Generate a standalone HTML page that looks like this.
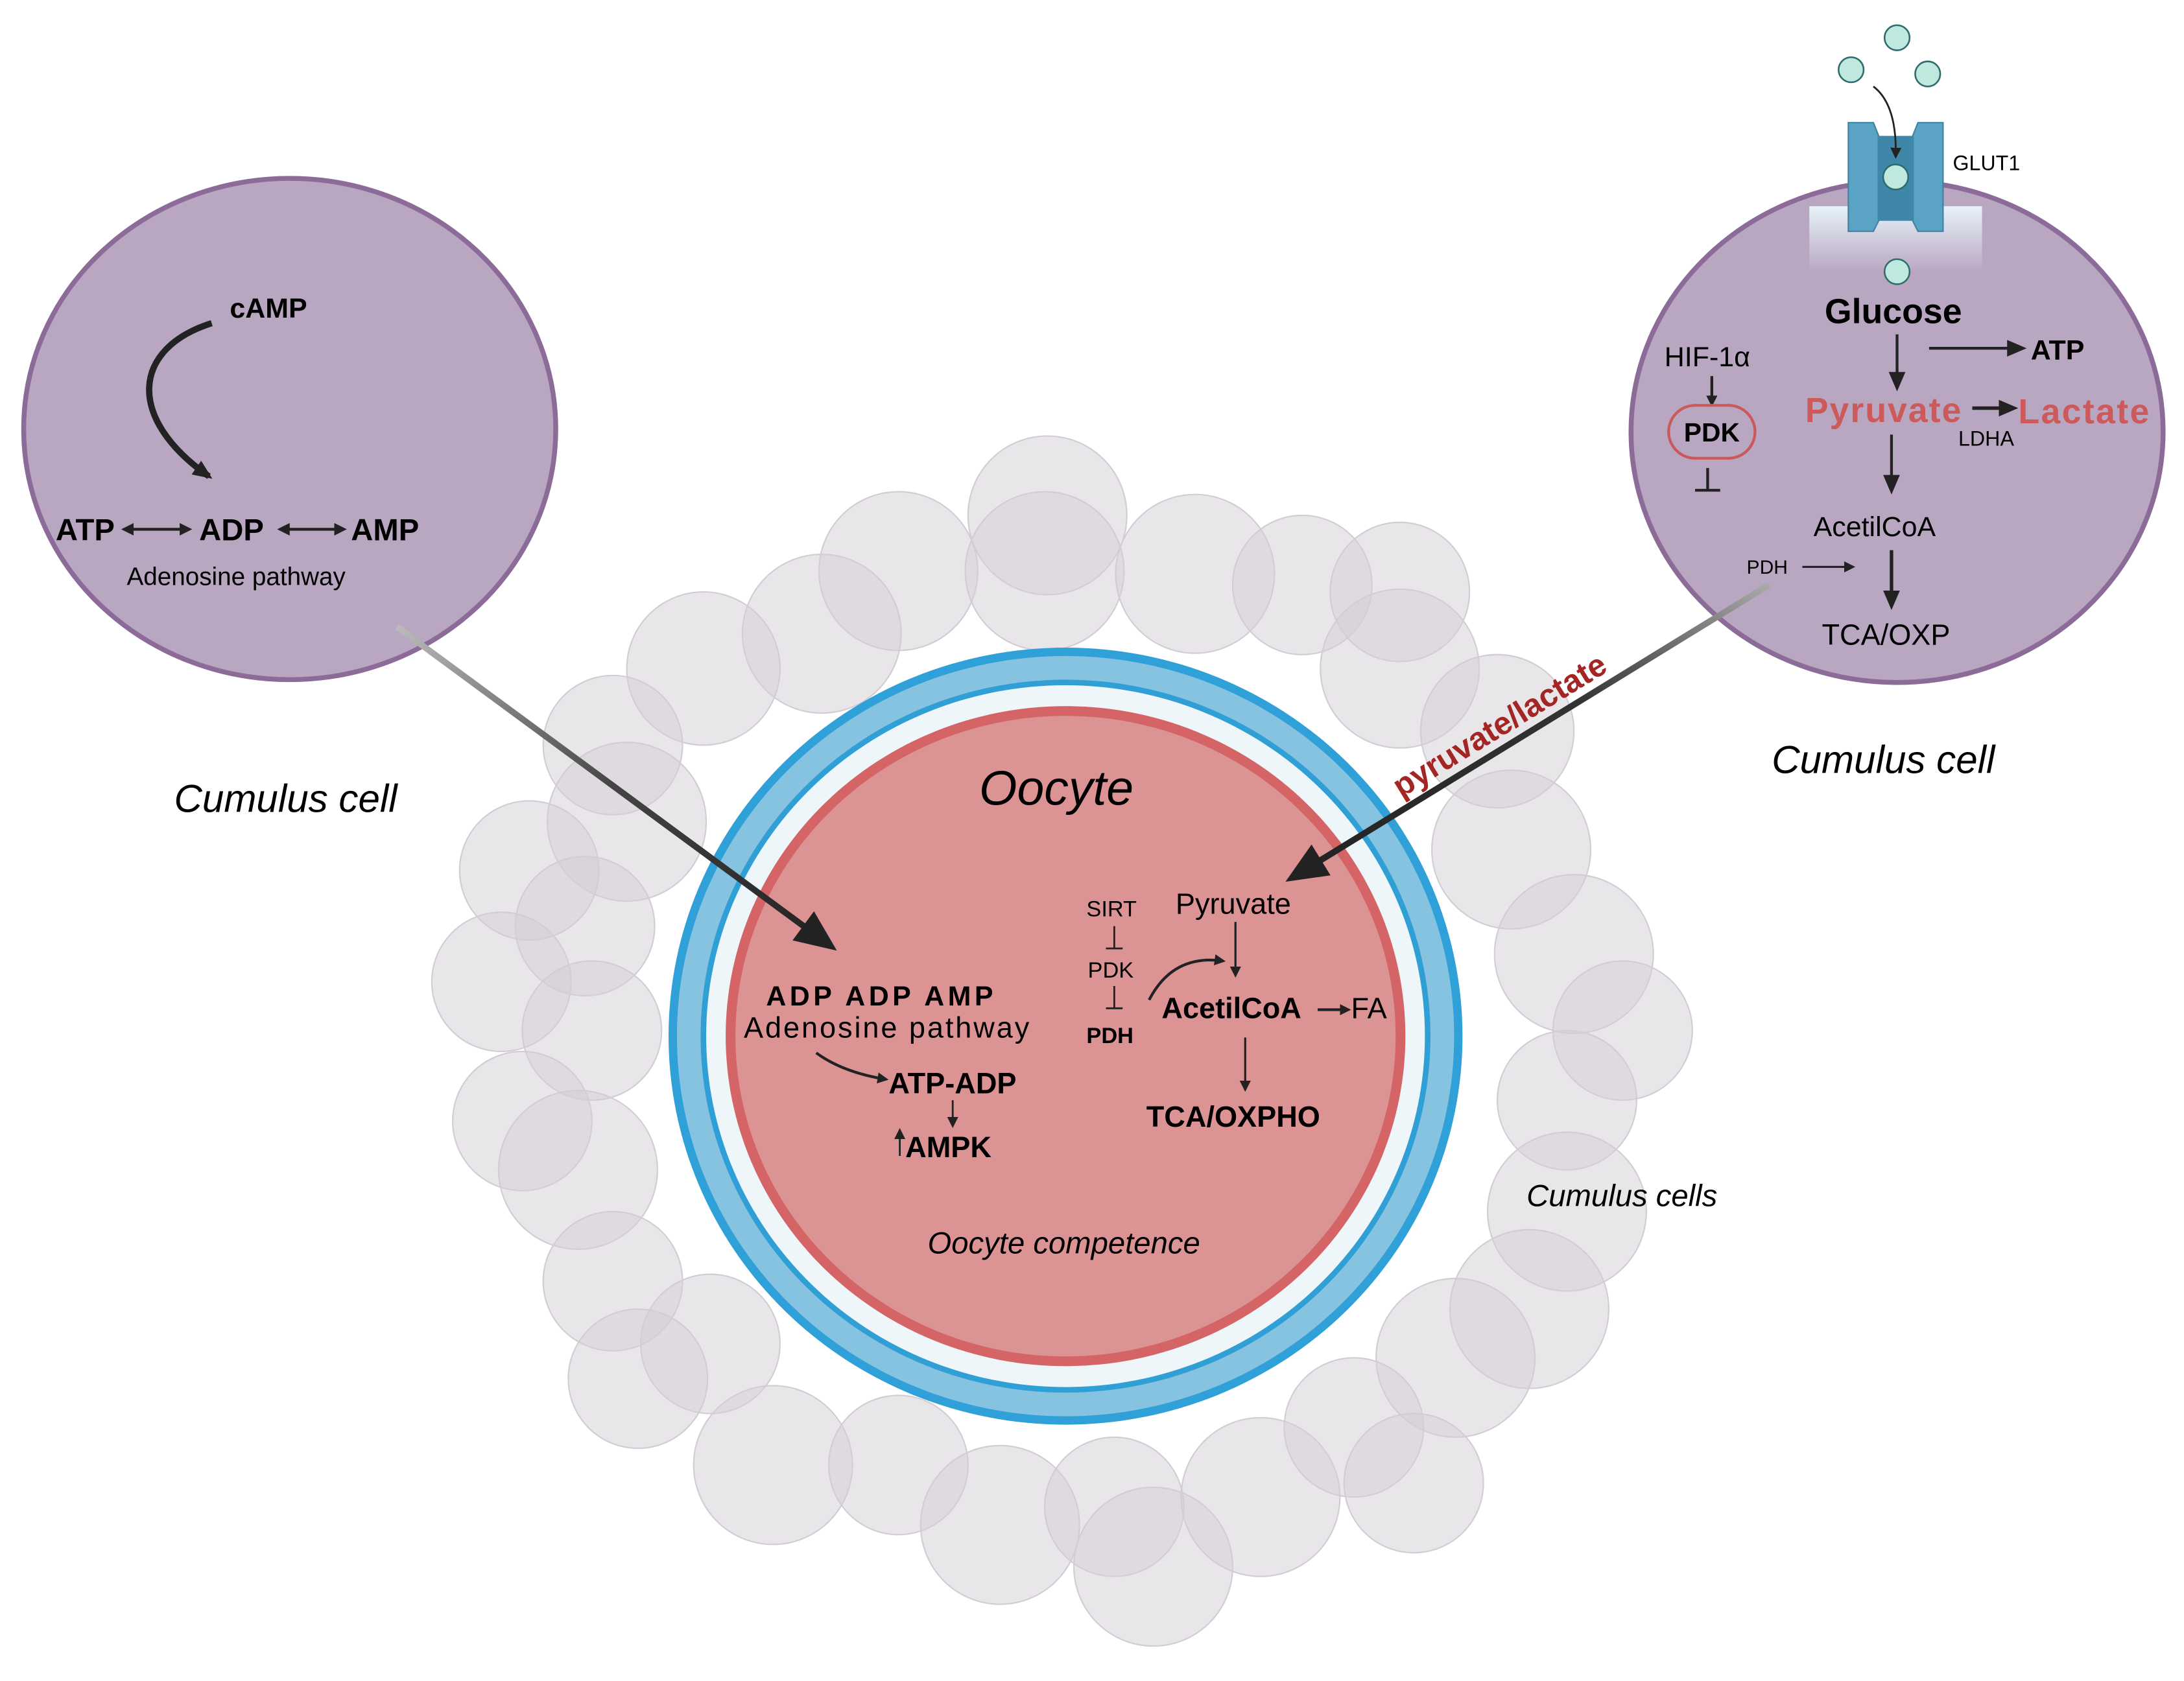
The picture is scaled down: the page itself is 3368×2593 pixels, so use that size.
<!DOCTYPE html>
<html><head><meta charset="utf-8"><style>html,body{margin:0;padding:0;background:#fff}svg{display:block}</style></head>
<body>
<svg width="3368" height="2593" viewBox="0 0 1568 1207" xmlns="http://www.w3.org/2000/svg" font-family="Liberation Sans, sans-serif">
<defs>
<marker id="ah" markerWidth="8" markerHeight="8" refX="6" refY="4" orient="auto" markerUnits="userSpaceOnUse"><path d="M0,0 L8,4 L0,8z" fill="#222"/></marker>
<marker id="ah2" markerWidth="9" markerHeight="9" refX="7" refY="4.5" orient="auto-start-reverse" markerUnits="userSpaceOnUse"><path d="M0,0 L9,4.5 L0,9z" fill="#222"/></marker>
<marker id="ahb" markerWidth="30" markerHeight="26" refX="24" refY="13" orient="auto" markerUnits="userSpaceOnUse"><path d="M0,0 L30,13 L0,26z" fill="#222"/></marker>
<marker id="ahm" markerWidth="14" markerHeight="12" refX="11" refY="6" orient="auto" markerUnits="userSpaceOnUse"><path d="M0,0 L14,6 L0,12z" fill="#222"/></marker>
<linearGradient id="g1" x1="0" y1="0" x2="1" y2="1"><stop offset="0" stop-color="#bbb"/><stop offset="0.5" stop-color="#444"/><stop offset="1" stop-color="#222"/></linearGradient>
<linearGradient id="g2" x1="1" y1="0" x2="0" y2="1"><stop offset="0" stop-color="#aaa"/><stop offset="0.4" stop-color="#333"/><stop offset="1" stop-color="#222"/></linearGradient>
<linearGradient id="mem" x1="0" y1="0" x2="0" y2="1"><stop offset="0" stop-color="#e6f2f8"/><stop offset="1" stop-color="#e6f2f8" stop-opacity="0"/></linearGradient>
</defs>
<g fill="#d4cdd6" fill-opacity="0.5" stroke="#d2ccd4" stroke-width="1">
<circle cx="752" cy="370" r="57"/><circle cx="645" cy="410" r="57"/><circle cx="750" cy="410" r="57"/><circle cx="858" cy="412" r="57"/><circle cx="935" cy="420" r="50"/><circle cx="1005" cy="425" r="50"/>
<circle cx="590" cy="455" r="57"/><circle cx="505" cy="480" r="55"/><circle cx="440" cy="535" r="50"/><circle cx="1005" cy="480" r="57"/><circle cx="1075" cy="525" r="55"/>
<circle cx="450" cy="590" r="57"/><circle cx="380" cy="625" r="50"/><circle cx="420" cy="665" r="50"/><circle cx="360" cy="705" r="50"/><circle cx="1085" cy="610" r="57"/>
<circle cx="1130" cy="685" r="57"/><circle cx="1165" cy="740" r="50"/><circle cx="425" cy="740" r="50"/><circle cx="375" cy="805" r="50"/><circle cx="415" cy="840" r="57"/>
<circle cx="1125" cy="790" r="50"/><circle cx="1125" cy="870" r="57"/><circle cx="440" cy="920" r="50"/><circle cx="510" cy="965" r="50"/><circle cx="458" cy="990" r="50"/>
<circle cx="1098" cy="940" r="57"/><circle cx="1045" cy="975" r="57"/><circle cx="555" cy="1052" r="57"/><circle cx="645" cy="1052" r="50"/><circle cx="718" cy="1095" r="57"/>
<circle cx="800" cy="1082" r="50"/><circle cx="828" cy="1125" r="57"/><circle cx="905" cy="1075" r="57"/><circle cx="972" cy="1025" r="50"/><circle cx="1015" cy="1065" r="50"/>
</g>
<ellipse cx="765" cy="744" rx="285" ry="279" fill="#2fa0d8"/>
<ellipse cx="765" cy="744" rx="279" ry="273" fill="#86c3e0"/>
<ellipse cx="765" cy="744" rx="262" ry="256" fill="#2f9fd6"/>
<ellipse cx="765" cy="744" rx="258" ry="252" fill="#eef6fa"/>
<ellipse cx="765" cy="744" rx="244" ry="237" fill="#d46466"/>
<ellipse cx="765" cy="744" rx="237" ry="230" fill="#db9394"/>
<ellipse cx="208" cy="308" rx="191" ry="180" fill="#b9a6c1" stroke="#8c6b98" stroke-width="3.5"/>
<ellipse cx="1362" cy="310" rx="191" ry="180" fill="#b9a6c1" stroke="#8c6b98" stroke-width="3.5"/>
<rect x="1299" y="148" width="124" height="48" fill="url(#mem)"/>
<path d="M1327,88 h18 l4,10 h24 l4,-10 h18 v78 h-18 l-4,-8 h-24 l-4,8 h-18z" fill="#5aa3c4" stroke="#3d84a4" stroke-width="1"/>
<rect x="1348" y="98" width="26" height="60" fill="#3f87a8"/>
<g fill="#bfe8df" stroke="#2d6d6d" stroke-width="1.2"><circle cx="1362" cy="27" r="9"/><circle cx="1329" cy="50" r="9"/><circle cx="1384" cy="53" r="9"/><circle cx="1361" cy="127" r="9"/><circle cx="1362" cy="195" r="9"/></g>
<path d="M1345,62 Q1362,75 1361,112" fill="none" stroke="#222" stroke-width="1.3" marker-end="url(#ah)"/>
<text x="1402" y="122" font-size="15">GLUT1</text>
<line x1="285" y1="450" x2="596" y2="679" stroke="url(#g1)" stroke-width="4.5" marker-end="url(#ahb)"/>
<line x1="1270" y1="420" x2="928" y2="630" stroke="url(#g2)" stroke-width="4.5" marker-end="url(#ahb)"/>
<text x="0" y="0" font-size="23" font-weight="bold" fill="#a32524" transform="translate(1006,573) rotate(-31.5)">pyruvate/lactate</text>
<text x="165" y="228" font-size="20" font-weight="bold">cAMP</text>
<path d="M152,232 C95,250 90,300 150,342" fill="none" stroke="#222" stroke-width="4.5" marker-end="url(#ahm)"/>
<text x="40" y="388" font-size="22" font-weight="bold">ATP</text>
<text x="143" y="388" font-size="22" font-weight="bold">ADP</text>
<text x="252" y="388" font-size="22" font-weight="bold">AMP</text>
<line x1="89" y1="380" x2="136" y2="380" stroke="#222" stroke-width="2" marker-end="url(#ah2)" marker-start="url(#ah2)"/>
<line x1="201" y1="380" x2="247" y2="380" stroke="#222" stroke-width="2" marker-end="url(#ah2)" marker-start="url(#ah2)"/>
<text x="91" y="420" font-size="18">Adenosine pathway</text>
<text x="125" y="583" font-size="28" font-style="italic">Cumulus cell</text>
<text x="1310" y="232" font-size="25" font-weight="bold">Glucose</text>
<line x1="1362" y1="240" x2="1362" y2="278" stroke="#222" stroke-width="2" marker-end="url(#ahm)"/>
<line x1="1385" y1="250" x2="1452" y2="250" stroke="#222" stroke-width="2" marker-end="url(#ahm)"/>
<text x="1458" y="258" font-size="20" font-weight="bold">ATP</text>
<text x="1195" y="263" font-size="20">HIF-1α</text>
<line x1="1229" y1="270" x2="1229" y2="290" stroke="#222" stroke-width="2" marker-end="url(#ah)"/>
<rect x="1198" y="291" width="62" height="38" rx="19" fill="none" stroke="#c9595b" stroke-width="2"/>
<text x="1229" y="317" font-size="19" font-weight="bold" text-anchor="middle">PDK</text>
<path d="M1226,336 v16 M1217,352 h18" stroke="#222" stroke-width="2"/>
<text x="1296" y="303" font-size="25" font-weight="bold" fill="#cc5a5a" textLength="112">Pyruvate</text>
<line x1="1416" y1="293" x2="1446" y2="293" stroke="#222" stroke-width="2.5" marker-end="url(#ahm)"/>
<text x="1449" y="304" font-size="25" font-weight="bold" fill="#cc5a5a" textLength="94">Lactate</text>
<text x="1406" y="320" font-size="15">LDHA</text>
<line x1="1358" y1="312" x2="1358" y2="352" stroke="#222" stroke-width="2" marker-end="url(#ahm)"/>
<text x="1302" y="385" font-size="20">AcetilCoA</text>
<text x="1254" y="412" font-size="14">PDH</text>
<line x1="1294" y1="407" x2="1330" y2="407" stroke="#222" stroke-width="1.5" marker-end="url(#ah)"/>
<line x1="1358" y1="395" x2="1358" y2="435" stroke="#222" stroke-width="2.5" marker-end="url(#ahm)"/>
<text x="1308" y="463" font-size="21">TCA/OXP</text>
<text x="1272" y="555" font-size="28" font-style="italic">Cumulus cell</text>
<text x="1096" y="866" font-size="22" font-style="italic">Cumulus cells</text>
<text x="703" y="578" font-size="35" font-style="italic">Oocyte</text>
<text x="550" y="722" font-size="20" font-weight="bold" textLength="163">ADP ADP AMP</text>
<text x="534" y="745" font-size="21" textLength="205">Adenosine pathway</text>
<path d="M586,756 Q605,770 636,775" fill="none" stroke="#222" stroke-width="2" marker-end="url(#ah)"/>
<text x="638" y="785" font-size="21" font-weight="bold">ATP-ADP</text>
<line x1="684" y1="790" x2="684" y2="808" stroke="#222" stroke-width="1.3" marker-end="url(#ah)"/>
<line x1="646" y1="830" x2="646" y2="812" stroke="#222" stroke-width="1.3" marker-end="url(#ah)"/>
<text x="650" y="831" font-size="21" font-weight="bold">AMPK</text>
<text x="780" y="658" font-size="16">SIRT</text>
<path d="M800,665 v16 M794,681 h12" stroke="#222" stroke-width="1.3"/>
<text x="781" y="702" font-size="16">PDK</text>
<path d="M800,708 v16 M794,724 h12" stroke="#222" stroke-width="1.3"/>
<text x="780" y="749" font-size="16" font-weight="bold">PDH</text>
<text x="844" y="656" font-size="21">Pyruvate</text>
<line x1="887" y1="662" x2="887" y2="700" stroke="#222" stroke-width="1.5" marker-end="url(#ah)"/>
<path d="M825,718 Q842,685 878,690" fill="none" stroke="#222" stroke-width="2" marker-end="url(#ah)"/>
<text x="834" y="731" font-size="21" font-weight="bold">AcetilCoA</text>
<line x1="946" y1="725" x2="968" y2="725" stroke="#222" stroke-width="2" marker-end="url(#ah)"/>
<text x="970" y="731" font-size="21">FA</text>
<line x1="894" y1="745" x2="894" y2="782" stroke="#222" stroke-width="1.5" marker-end="url(#ah)"/>
<text x="823" y="809" font-size="21" font-weight="bold">TCA/OXPHO</text>
<text x="666" y="900" font-size="22" font-style="italic">Oocyte competence</text>
</svg>
</body></html>
